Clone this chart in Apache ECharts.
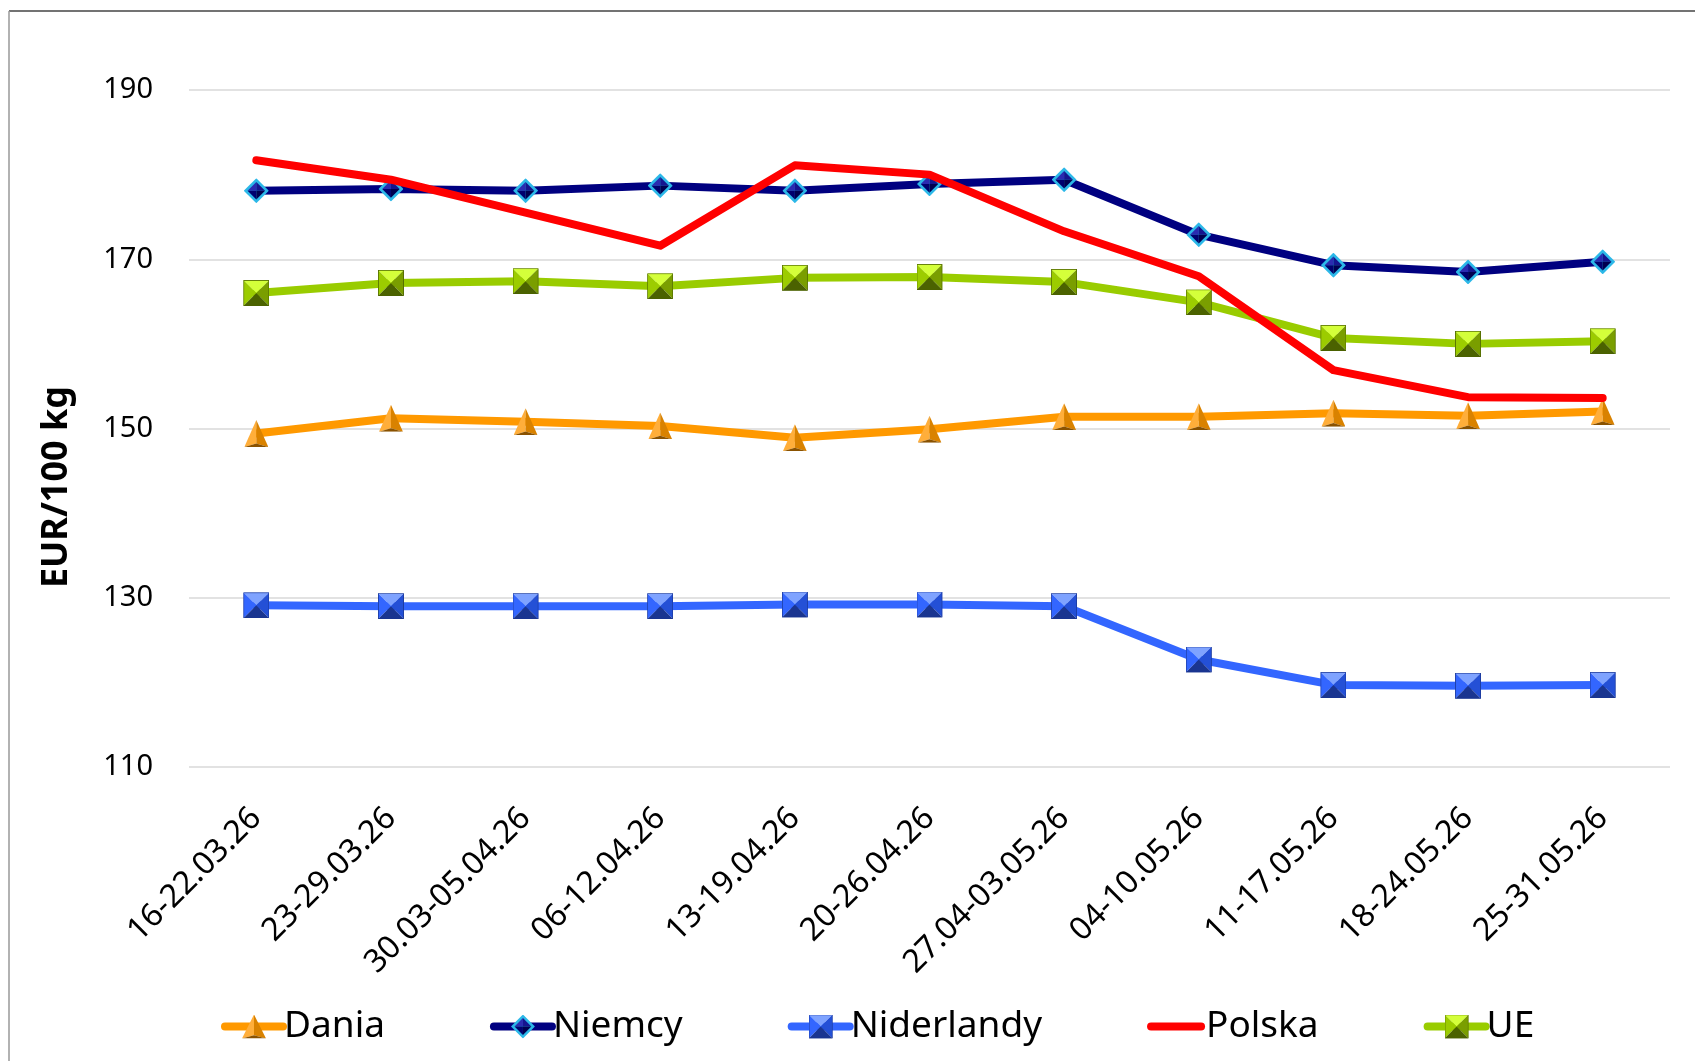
<!DOCTYPE html>
<html>
<head>
<meta charset="utf-8">
<title>Ceny</title>
<script src="https://cdn.jsdelivr.net/npm/echarts@6/dist/echarts.min.js"></script>
<style>
  html, body { margin: 0; padding: 0; background: #fff; }
  #chart { width: 1695px; height: 1061px; }
</style>
</head>
<body>
<div id="chart"></div>
<script>
// data
const categories = ['16-22.03.26', '23-29.03.26', '30.03-05.04.26', '06-12.04.26', '13-19.04.26',
  '20-26.04.26', '27.04-03.05.26', '04-10.05.26', '11-17.05.26', '18-24.05.26', '25-31.05.26'];
const dania = [149.4, 151.2, 150.8, 150.3, 148.9, 149.9, 151.4, 151.4, 151.8, 151.5, 152.0];
const niemcy = [178.1, 178.3, 178.1, 178.7, 178.1, 178.9, 179.4, 172.9, 169.3, 168.5, 169.7];
const niderlandy = [129.1, 129.0, 129.0, 129.0, 129.2, 129.2, 129.0, 122.7, 119.7, 119.6, 119.7];
const polska = [181.7, 179.4, 175.5, 171.6, 181.1, 180.0, 173.3, 168.0, 156.9, 153.7, 153.6];
const ue = [166.0, 167.2, 167.4, 166.8, 167.8, 167.9, 167.3, 164.9, 160.7, 160.0, 160.3];
const yTicks = { min: 110, max: 190, interval: 20 };

const FONT = '"Noto Sans", "Open Sans", sans-serif';

// bevelled marker pictures (svg as data uri)
function svgSymbol(body, w, h) {
  const svg = '<svg xmlns="http://www.w3.org/2000/svg" width="' + w + '" height="' + h +
    '" viewBox="0 0 ' + w + ' ' + h + '">' + body + '</svg>';
  return 'image://data:image/svg+xml;charset=utf-8,' + encodeURIComponent(svg);
}
function pyramid(top, left, right, bottom) {
  return svgSymbol(
    '<polygon points="0,0 20,0 10,10" fill="' + top + '"/>' +
    '<polygon points="0,0 10,10 0,20" fill="' + left + '"/>' +
    '<polygon points="20,0 20,20 10,10" fill="' + right + '"/>' +
    '<polygon points="0,20 20,20 10,10" fill="' + bottom + '"/>' +
    '<rect x="0.3" y="0.3" width="19.4" height="19.4" fill="none" stroke="' + bottom + '" stroke-width="0.6"/>', 20, 20);
}
const symTriangle = svgSymbol(
  '<polygon points="10,0 0,22 10,19" fill="#FFAE3A"/>' +
  '<polygon points="10,0 20,22 10,19" fill="#D98200"/>' +
  '<polygon points="0,22 20,22 10,19" fill="#8A5200"/>', 20, 22);
const symDiamond = svgSymbol(
  '<polygon points="10,0 20,10 10,20 0,10" fill="#2CB8E8"/>' +
  '<polygon points="10,3 10,10 3,10" fill="#2B2BB0"/>' +
  '<polygon points="10,3 17,10 10,10" fill="#15158F"/>' +
  '<polygon points="3,10 10,10 10,17" fill="#00006E"/>' +
  '<polygon points="17,10 10,17 10,10" fill="#000050"/>', 20, 20);
const symGreen = pyramid('#D4FF3A', '#9CCC00', '#7A9E00', '#4B6200');
const symBlue = pyramid('#7FA3FF', '#3366FF', '#2450D6', '#1A3590');
// plain thick line for the legend entry without marker
const iconLine = 'path://M4,0 L54,0 A4,4 0 0 1 54,8 L4,8 A4,4 0 0 1 4,0 Z';

function lineSeries(name, data, color, symbol, size, z) {
  return {
    name: name,
    type: 'line',
    data: data,
    z: z,
    symbol: symbol,
    symbolSize: size,
    showSymbol: symbol !== 'none',
    lineStyle: { color: color, width: 8, cap: 'round', join: 'round' },
    itemStyle: { color: color },
    emphasis: { disabled: true },
    animation: false
  };
}

const chart = echarts.init(document.getElementById('chart'));

const option = {
  backgroundColor: '#fff',
  animation: false,
  grid: { left: 189, right: 25, top: 90, bottom: 294 },
  xAxis: {
    type: 'category',
    data: categories,
    boundaryGap: true,
    axisLine: { show: false },
    axisTick: { show: false },
    axisLabel: {
      rotate: 45,
      margin: 46,
      interval: 0,
      color: '#000',
      fontFamily: FONT,
      fontSize: 32
    }
  },
  yAxis: {
    type: 'value',
    min: yTicks.min,
    max: yTicks.max,
    interval: yTicks.interval,
    axisLine: { show: false },
    axisTick: { show: false },
    axisLabel: { margin: 36, color: '#000', fontFamily: FONT, fontSize: 29 },
    splitLine: { lineStyle: { color: '#D9D9D9', width: 1.5 } }
  },
  legend: {
    data: ['Dania', 'Niemcy', 'Niderlandy', { name: 'Polska', icon: iconLine }, 'UE'],
    left: 216,
    top: 1003,
    itemGap: 105,
    itemWidth: 58,
    itemHeight: 30,
    lineStyle: { width: 8, cap: 'round' },
    textStyle: { color: '#000', fontFamily: FONT, fontSize: 37, padding: [0, 0, 0, -4] }
  },
  graphic: [
    { type: 'line', shape: { x1: 9, y1: 11, x2: 1700, y2: 11 }, style: { stroke: '#444', lineWidth: 1.5 } },
    { type: 'line', shape: { x1: 9, y1: 11, x2: 9, y2: 1070 }, style: { stroke: '#999', lineWidth: 1.5 } },
    {
      type: 'text',
      x: 57, y: 487,
      rotation: Math.PI / 2,
      style: {
        text: 'EUR/100 kg',
        fill: '#000',
        font: 'bold 36px "Noto Sans", sans-serif',
        textAlign: 'center',
        textVerticalAlign: 'middle'
      }
    }
  ],
  series: [
    lineSeries('Dania', dania, '#FF9900', symTriangle, [24, 27], 2),
    lineSeries('Niemcy', niemcy, '#000080', symDiamond, 25, 2),
    lineSeries('Niderlandy', niderlandy, '#3366FF', symBlue, 26, 2),
    lineSeries('UE', ue, '#99CC00', symGreen, 26, 2),
    lineSeries('Polska', polska, '#FF0000', 'none', 0, 3)
  ]
};

chart.setOption(option);
</script>
</body>
</html>
